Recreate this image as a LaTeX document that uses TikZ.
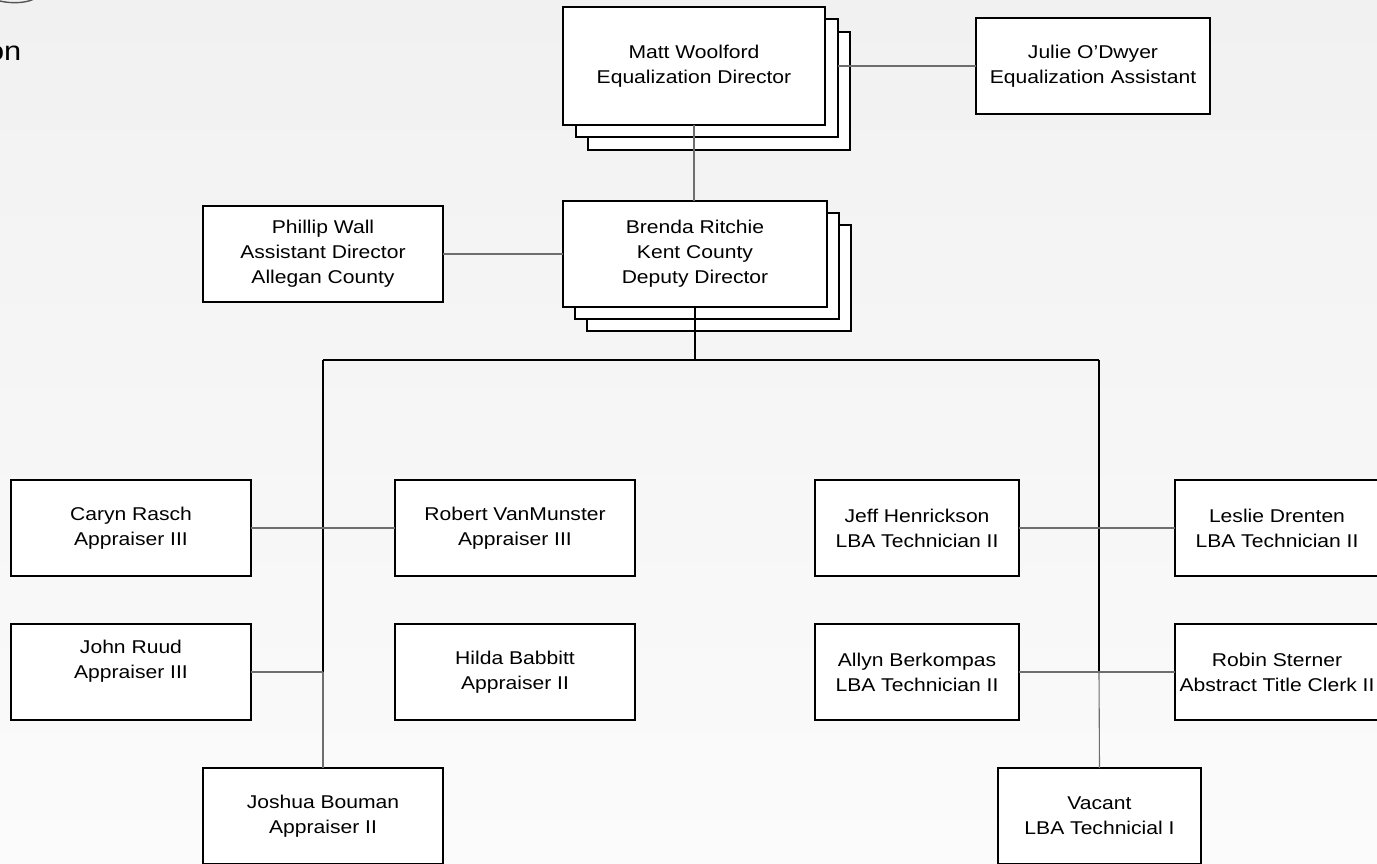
\documentclass[tikz,border=0pt]{standalone}
\usepackage{fontspec}
\setmainfont{Liberation Sans}[FakeStretch=1.14]
\definecolor{bgtop}{HTML}{F1F1F1}
\definecolor{bgbot}{HTML}{FBFBFB}
\definecolor{conn}{HTML}{6E6E6E}
\definecolor{arcgray}{HTML}{555555}
\tikzset{
  orgbox/.style={draw=black, line width=1.6pt, fill=white, inner sep=0pt, outer sep=0pt,
    align=center, anchor=north west, font=\fontsize{18.5}{25}\selectfont},
  wide/.style={minimum width=240pt, minimum height=96pt},
  narrow/.style={minimum width=204pt, minimum height=96pt},
  conline/.style={draw=conn, line width=1.1pt},
  busline/.style={draw=black, line width=1.4pt},
}
\begin{document}
\begin{tikzpicture}[x=1pt,y=-1pt]
\useasboundingbox (0,0) rectangle (1377,863);
\fill[top color=bgtop,bottom color=bgbot] (0,0) rectangle (1377,863);

% partial elements at top left
\draw[arcgray, line width=1.4pt] (0,1) .. controls (10,3.5) and (25,3.5) .. (34,-1);
\node[anchor=base east, inner sep=0pt, font=\fontsize{27}{30}\selectfont] (ontext) at (21.5,60) {on};

% Matt stack
\node[orgbox, minimum width=262pt, minimum height=118pt] (matt3) at (588,32) {};
\node[orgbox, minimum width=262pt, minimum height=118pt] (matt2) at (576,19) {};
\node[orgbox, minimum width=262pt, minimum height=118pt] (matt) at (563,7) {Matt Woolford\\Equalization Director};

\node[orgbox, minimum width=234pt, minimum height=96pt] (julie) at (976,18) {Julie O’Dwyer\\Equalization Assistant};

% Brenda stack
\node[orgbox, minimum width=264pt, minimum height=106pt] (brenda3) at (587,225) {};
\node[orgbox, minimum width=264pt, minimum height=106pt] (brenda2) at (575,213) {};
\node[orgbox, minimum width=264pt, minimum height=106pt] (brenda) at (563,201) {Brenda Ritchie\\Kent County\\Deputy Director};

\node[orgbox, wide] (phillip) at (203,206) {Phillip Wall\\Assistant Director\\Allegan County};

% left branch
\node[orgbox, wide] (caryn) at (11,480) {Caryn Rasch\\Appraiser III};
\node[orgbox, wide] (robert) at (395,480) {Robert VanMunster\\Appraiser III};
\node[orgbox, wide] (john) at (11,624) {John Ruud\\Appraiser III\\\mbox{}};
\node[orgbox, wide] (hilda) at (395,624) {Hilda Babbitt\\Appraiser II};
\node[orgbox, wide] (joshua) at (203,768) {Joshua Bouman\\Appraiser II};

% right branch
\node[orgbox, narrow] (jeff) at (815,480) {Jeff Henrickson\\LBA Technician II};
\node[orgbox, narrow] (leslie) at (1175,480) {Leslie Drenten\\LBA Technician II};
\node[orgbox, narrow] (allyn) at (815,624) {Allyn Berkompas\\LBA Technician II};
\node[orgbox, narrow] (robin) at (1175,624) {Robin Sterner\\Abstract Title Clerk II};
\node[orgbox, minimum width=203pt, minimum height=96pt] (vacant) at (998,768) {Vacant\\LBA Technicial I};

% connectors
\draw[conline] (matt2.east |- julie.west) -- (julie.west);
\draw[conline] (matt.south) -- (matt.south |- brenda.north);
\draw[conline] (phillip.east) -- (brenda.west);

\coordinate (busL) at (323,360);
\coordinate (busR) at (1099,360);
\draw[busline] (brenda.south) -- (brenda.south |- busL);
\draw[busline] (busL) -- (busR);

\coordinate (jL) at (323,672);
\coordinate (jR) at (1099,672);
\draw[draw=black, line width=1.2pt] (busL) -- (jL);
\draw[conline] (jL) -- (joshua.north);
\draw[draw=black, line width=1.2pt] (busR) -- (jR);
\draw[conline] (jR) -- (vacant.north);

\draw[conline] (caryn.east) -- (robert.west);
\draw[conline] (john.east) -- (jL);
\draw[conline] (jeff.east) -- (leslie.west);
\draw[conline] (allyn.east) -- (robin.west);
\end{tikzpicture}
\end{document}
